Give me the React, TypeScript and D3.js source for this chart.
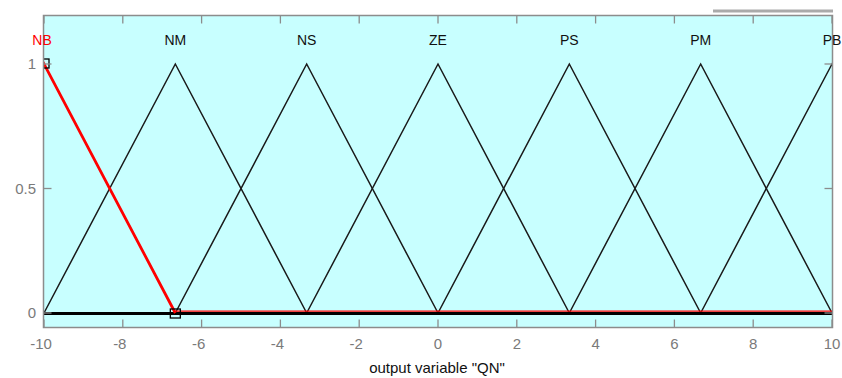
import React from "react";
import * as d3 from "d3";

// membership functions of output variable "QN" (trimf params)
const mfNames = ["NB", "NM", "NS", "ZE", "PS", "PM", "PB"];
const mfParams: number[][] = [
  [-13.33, -10, -6.667],
  [-10, -6.667, -3.333],
  [-6.667, -3.333, 0],
  [-3.333, 0, 3.333],
  [0, 3.333, 6.667],
  [3.333, 6.667, 10],
  [6.667, 10, 13.33],
];
const selected = 0;
const xTicks = [-10, -8, -6, -4, -2, 0, 2, 4, 6, 8, 10];
const yTicks = [0, 0.5, 1];

const W = 842;
const H = 378;
const left = 43.5;
const right = 832.5;
const top = 15.5;
const bottom = 327.5;

const App = () => {
  const x = d3.scaleLinear().domain([-10, 10]).range([left + 0.5, right - 0.5]);
  const y = d3.scaleLinear().domain([0, 1]).range([313, 64]);

  const line = d3
    .line<number[]>()
    .x((d) => x(d[0]))
    .y((d) => y(d[1]));

  const tri = (p: number[]) => [
    [p[0], 0],
    [p[1], 1],
    [p[2], 0],
  ];

  const font = "'Liberation Sans', Arial, sans-serif";
  const sel = mfParams[selected];

  return (
    <div style={{ position: "absolute", left: 0, top: 0 }}>
      <svg width={W} height={H} style={{ display: "block", background: "#fff" }}>
        <defs>
          <clipPath id="plot">
            <rect x={left} y={top} width={right - left} height={bottom - top} />
          </clipPath>
        </defs>
        <line x1={713} x2={833} y1={11} y2={11} stroke="#aaaaaa" strokeWidth={3} />
        <rect x={left} y={top} width={right - left} height={bottom - top} fill="#c8ffff" />

        <g clipPath="url(#plot)">
          {mfParams.map((p, i) =>
            i === selected ? null : (
              <path
                key={mfNames[i]}
                d={line(tri(p)) || ""}
                fill="none"
                stroke="#1a1a1a"
                strokeWidth={1.5}
              />
            )
          )}
          <line x1={x(-10)} x2={x(10)} y1={y(0) + 0.5} y2={y(0) + 0.5} stroke="#000" strokeWidth={3} />
          <line x1={x(sel[2])} x2={x(10)} y1={y(0) - 1.8} y2={y(0) - 1.8} stroke="#ff0000" strokeWidth={1.2} />
          <path
            d={line(tri(sel)) || ""}
            fill="none"
            stroke="#ff0000"
            strokeWidth={2.8}
          />
          <rect x={x(sel[1]) - 5} y={y(1) - 5} width={10} height={9} fill="none" stroke="#000" strokeWidth={1.3} />
          <rect x={x(sel[2]) - 5} y={y(0) - 4} width={10} height={9} fill="none" stroke="#000" strokeWidth={1.3} />
        </g>

        {/* axes box */}
        <rect x={left} y={top} width={right - left} height={bottom - top} fill="none" stroke="#8c8c8c" strokeWidth={1.5} />
        {xTicks.map((t) => (
          <g key={"x" + t}>
            <line x1={x(t)} x2={x(t)} y1={top} y2={top + 8} stroke="#8c8c8c" strokeWidth={1.3} />
            <line x1={x(t)} x2={x(t)} y1={bottom} y2={bottom - 8} stroke="#8c8c8c" strokeWidth={1.3} />
            <text x={x(t) - (t < 0 ? 3 : 0)} y={349} textAnchor="middle" fontFamily={font} fontSize={15} fill="#7a7a7a">
              {t}
            </text>
          </g>
        ))}
        {yTicks.map((t) => (
          <g key={"y" + t}>
            <line x1={left} x2={left + 8} y1={y(t)} y2={y(t)} stroke="#8c8c8c" strokeWidth={1.3} />
            <line x1={right} x2={right - 8} y1={y(t)} y2={y(t)} stroke="#8c8c8c" strokeWidth={1.3} />
            <text x={36} y={y(t) + 5} textAnchor="end" fontFamily={font} fontSize={15} fill="#7a7a7a">
              {t}
            </text>
          </g>
        ))}

        {mfNames.map((n, i) => (
          <text
            key={n}
            x={x(mfParams[i][1]) - (i === 0 ? 2 : 0)}
            y={45}
            textAnchor="middle"
            fontFamily={font}
            fontSize={14}
            fill={i === selected ? "#ff0000" : "#111"}
          >
            {n}
          </text>
        ))}

        <text x={437} y={373} textAnchor="middle" fontFamily={font} fontSize={15} fill="#111">
          output variable "QN"
        </text>
      </svg>
    </div>
  );
};

export default App;
